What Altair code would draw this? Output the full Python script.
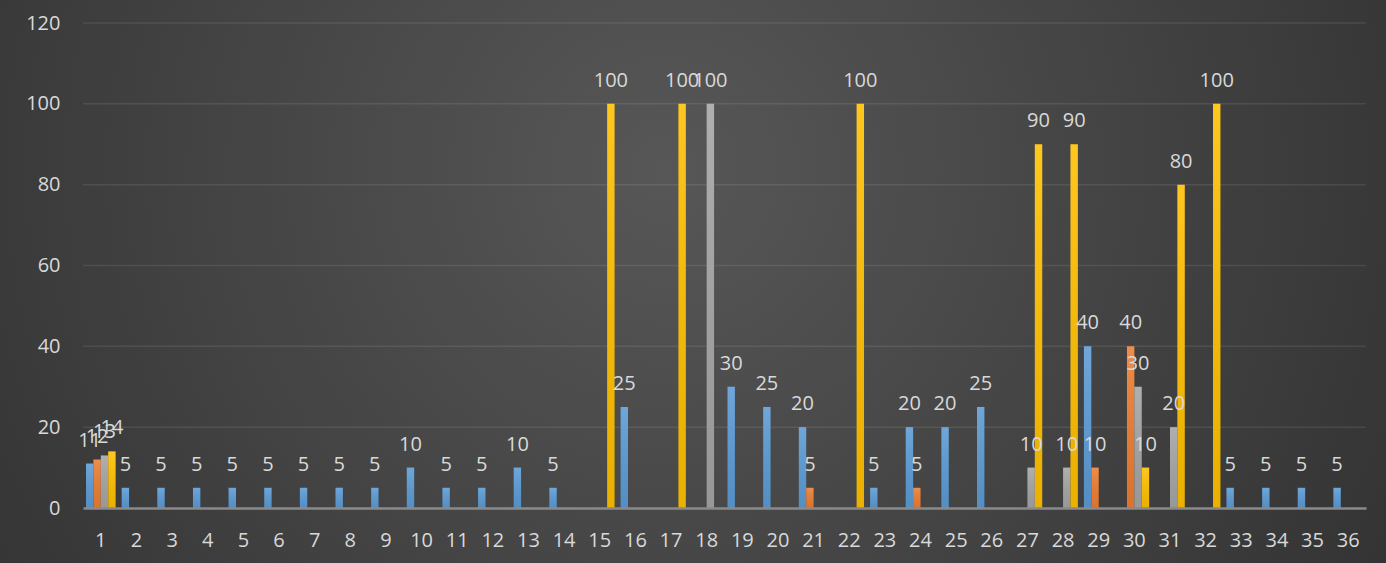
import altair as alt
import pandas as pd

categories = [str(i) for i in range(1, 37)]
series_names = ["S1", "S2", "S3", "S4"]
series_colors = ["#5B9BD5", "#ED7D31", "#A5A5A5", "#FFC000"]
grid_values = [20, 40, 60, 80, 100, 120]

N = None
s1 = [11, 5, 5, 5, 5, 5, 5, 5, 5, 10, 5, 5, 10, 5, N, 25, N, N, 30, 25, 20, N, 5, 20, 20, 25, N, N, 40, N, N, N, 5, 5, 5, 5]
s2 = [12, N, N, N, N, N, N, N, N, N, N, N, N, N, N, N, N, N, N, N, 5, N, N, 5, N, N, N, N, 10, 40, N, N, N, N, N, N]
s3 = [13, N, N, N, N, N, N, N, N, N, N, N, N, N, N, N, N, 100, N, N, N, N, N, N, N, N, 10, 10, N, 30, 20, N, N, N, N, N]
s4 = [14, N, N, N, N, N, N, N, N, N, N, N, N, N, 100, N, 100, N, N, N, N, 100, N, N, N, N, 90, 90, N, 10, 80, 100, N, N, N, N]

rows = []
for name, vals in zip(series_names, [s1, s2, s3, s4]):
    for c, v in zip(categories, vals):
        if v is not None:
            rows.append({"cat": c, "series": name, "value": v})
df = pd.DataFrame(rows)

W, H = 1283, 485
FONT = "Open Sans"
LBL = "#d9d9d9"

x_enc = alt.X("cat:N", sort=categories,
              scale=alt.Scale(domain=categories, paddingInner=0.17, paddingOuter=0.085),
              axis=alt.Axis(title=None, labelAngle=0, ticks=False, grid=False, zindex=1,
                            domainColor="#8a8a8a", domainWidth=2.5,
                            labelColor=LBL, labelFontSize=20, labelFont=FONT,
                            labelPadding=22))
xo_enc = alt.XOffset("series:N", scale=alt.Scale(domain=series_names, paddingInner=0, paddingOuter=0))
y_scale = alt.Scale(domain=[0, 120], nice=False)
y_enc = alt.Y("value:Q", scale=y_scale,
              axis=alt.Axis(title=None, values=[0, 20, 40, 60, 80, 100, 120], zindex=1,
                            ticks=False, domain=False, grid=False,
                            labelColor=LBL, labelFontSize=20, labelFont=FONT,
                            labelPadding=23))

bg = alt.Chart(pd.DataFrame({"a": [0]})).mark_rect(
    clip=False,
    fill=alt.Gradient(gradient="radial", x1=0.48, y1=0.42, r1=0, x2=0.48, y2=0.42, r2=0.75,
                      stops=[alt.GradientStop(color="#575757", offset=0),
                             alt.GradientStop(color="#2a2a2a", offset=1)])
).encode(x=alt.value(-83), x2=alt.value(W + 20), y=alt.value(-23), y2=alt.value(H + 55))

grid = alt.Chart(pd.DataFrame({"value": grid_values})).mark_rule(
    color="#ffffff", opacity=0.09, strokeWidth=1.5
).encode(y=y_enc, x=alt.value(0), x2=alt.value(W))

bars = alt.Chart(df).mark_bar(stroke=None).encode(
    x=x_enc, xOffset=xo_enc, y=y_enc,
    color=alt.Color("series:N", scale=alt.Scale(domain=series_names, range=series_colors), legend=None),
)

shade = alt.Chart(df).mark_bar(
    fill=alt.Gradient(gradient="linear", x1=0, y1=0, x2=0, y2=1,
                      stops=[alt.GradientStop(color="rgba(255,255,255,0.12)", offset=0),
                             alt.GradientStop(color="rgba(0,0,0,0.08)", offset=1)])
).encode(x=x_enc, xOffset=xo_enc, y=y_enc)

labels = alt.Chart(df).mark_text(
    baseline="alphabetic", dy=-17, color=LBL, fontSize=20, font=FONT
).encode(x=x_enc, xOffset=xo_enc, y=y_enc, text=alt.Text("value:Q"))

chart = alt.layer(bg, grid, bars, shade, labels).properties(
    width=W, height=H,
    background="#2e2e2e",
    padding={"left": 83, "top": 23, "right": 20, "bottom": 55},
    autosize=alt.AutoSizeParams(type="none"),
).configure_view(stroke=None)

chart.save("out.html", embed_options={"renderer": "svg", "actions": False})
